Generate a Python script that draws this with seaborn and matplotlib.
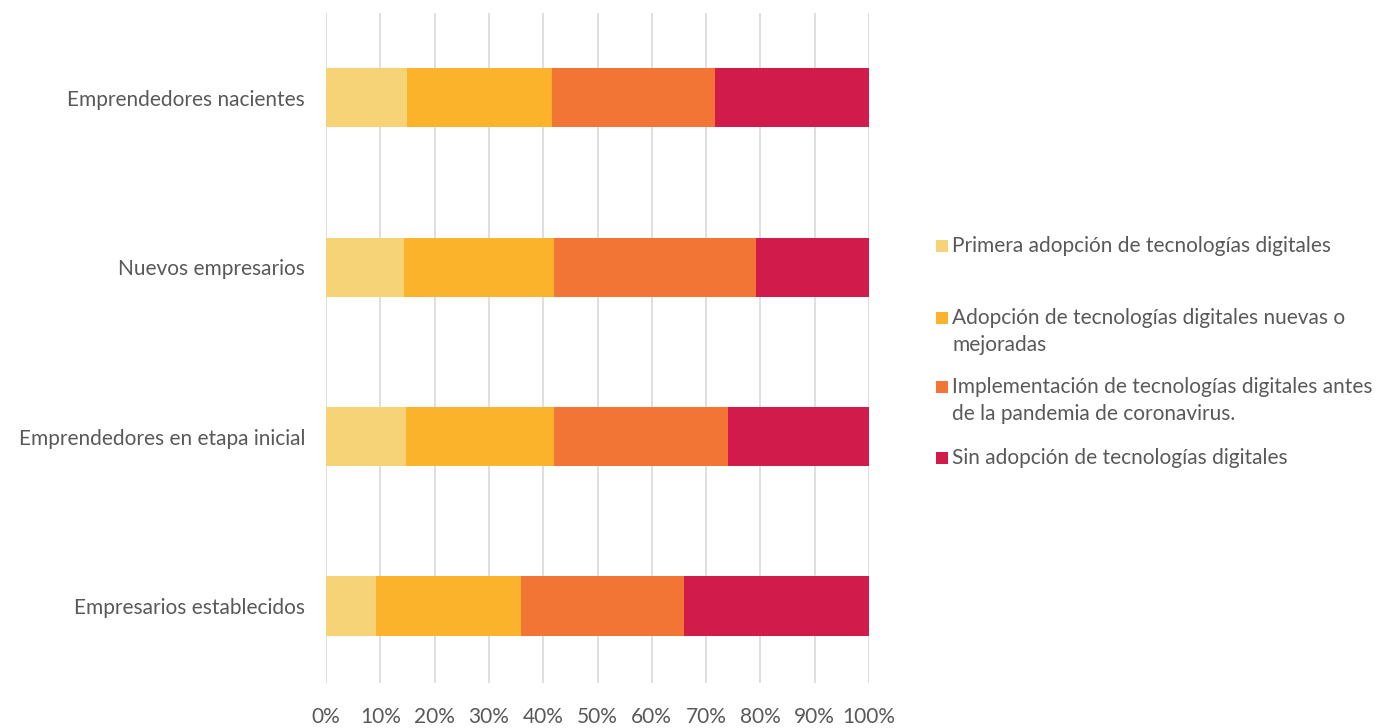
import numpy as np
import pandas as pd
import seaborn as sns
import matplotlib.pyplot as plt
from matplotlib.patches import Rectangle

# Data (percent of each group)
groups = ["Emprendedores nacientes", "Nuevos empresarios",
          "Emprendedores en etapa inicial", "Empresarios establecidos"]
series = ["Primera adopción de tecnologías digitales",
          "Adopción de tecnologías digitales nuevas o\nmejoradas",
          "Implementación de tecnologías digitales antes\nde la pandemia de coronavirus.",
          "Sin adopción de tecnologías digitales"]
primera = [14.9, 14.4, 14.7, 9.3]
nuevas = [26.8, 27.5, 27.2, 26.7]
antes = [29.9, 37.3, 32.1, 30.0]
sin = [28.4, 20.8, 26.0, 34.0]
colors = ["#F5D376", "#FCB32C", "#F37536", "#D11C4B"]
xticks = [0, 10, 20, 30, 40, 50, 60, 70, 80, 90, 100]

sns.set_style("white")
plt.rcParams['font.family'] = ['Lato', 'DejaVu Sans']
text_color = "#595959"

df = pd.DataFrame({"group": groups, "s0": primera, "s1": nuevas,
                   "s2": antes, "s3": sin})
cum = df[["s0", "s1", "s2", "s3"]].cumsum(axis=1)

W, H = 1386, 728
fig = plt.figure(figsize=(W / 100, H / 100), dpi=100)
ax = fig.add_axes([326 / W, 1 - 683 / H, (869 - 326) / W, (683 - 13) / H])

# Stack by drawing cumulative totals, largest first
for i in range(3, -1, -1):
    sns.barplot(x=cum["s%d" % i], y=df["group"], orient="h", color=colors[i],
                width=0.35, saturation=1, linewidth=0, ax=ax, zorder=2)

ax.set_xlim(0, 100)
ax.set_ylim(3.454, -0.5)
ax.set_xticks(xticks)
ax.set_xticklabels(["%d%%" % t for t in xticks])
ax.set_xlabel("")
ax.set_ylabel("")
ax.grid(axis="x", color="#D9D9D9", linewidth=1.2, zorder=0)
ax.set_axisbelow(True)
for s in ax.spines.values():
    s.set_visible(False)
ax.tick_params(axis="both", length=0, labelsize=15, colors=text_color)
ax.tick_params(axis="x", pad=17)
ax.tick_params(axis="y", pad=15)

# Legend drawn by hand so the marker sits on the first line, as in Excel
entry_y = [246, 318, 387, 458]
line_gap = 27
box = 12
for c, label, y0 in zip(colors, series, entry_y):
    fig.patches.append(Rectangle((936 / W, 1 - (y0 + box / 2) / H), box / W, box / H,
                                 transform=fig.transFigure, facecolor=c,
                                 edgecolor="none"))
    for k, line in enumerate(label.split("\n")):
        fig.text(952 / W, 1 - (y0 + k * line_gap) / H, line, fontsize=15,
                 color=text_color, va="center", ha="left")

fig.savefig("out.png", dpi=100)
